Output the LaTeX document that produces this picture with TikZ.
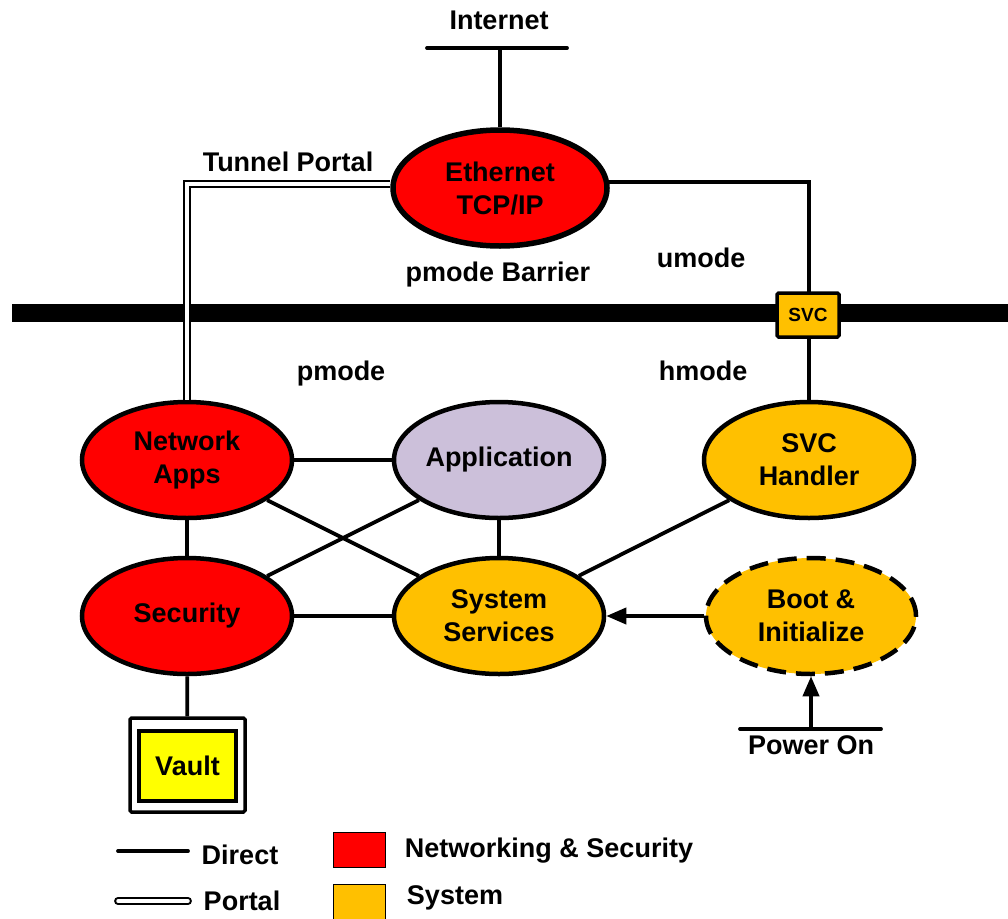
\documentclass[tikz,border=0pt]{standalone}
\usepackage{fontspec}
\setmainfont{Liberation Sans}
\usetikzlibrary{shapes.geometric,arrows.meta}
\definecolor{netred}{HTML}{FF0000}
\definecolor{sysorange}{HTML}{FFC000}
\definecolor{applav}{HTML}{CCC0DA}
\definecolor{vaultyellow}{HTML}{FFFF00}
\tikzset{
  lbl/.style={font=\fontsize{27}{33}\selectfont\bfseries, align=center, inner sep=0pt},
  blob/.style={ellipse, draw=black, line width=4.5pt, minimum width=210pt, minimum height=116pt, inner sep=0pt, lbl},
  netblob/.style={blob, fill=netred},
  sysblob/.style={blob, fill=sysorange},
  direct/.style={line width=3.8pt},
  portal/.style={line width=2.2pt, double=white, double distance=3.5pt},
  tip/.style={-{Triangle[length=20pt,width=16pt]}},
}
\begin{document}
\begin{tikzpicture}[x=1pt,y=-1pt]
\useasboundingbox (0,0) rectangle (1008,918);

% privilege barrier
\fill[black] (12,304) rectangle (1008,322);

% nodes
\node[netblob, line width=5.5pt, minimum width=214pt] (eth) at (500,188) {Ethernet\\TCP/IP};
\node[netblob] (napps) at (187,460) {Network\\Apps};
\node[blob, fill=applav] (app) at (499,460) {Application};
\node[sysblob] (svch) at (809,460) {SVC\\Handler};
\node[netblob] (sec) at (187,616) {Security};
\node[sysblob] (sys) at (499,616) {System\\Services};
\node[sysblob, dash pattern=on 19pt off 10pt] (boot) at (811,616) {Boot \&\\Initialize};

\node[draw, line width=3.5pt, fill=white, minimum width=115pt, minimum height=94pt, rounded corners=1.5pt] (vaultbox) at (187.5,765) {};
\node[draw, line width=4.5pt, fill=vaultyellow, minimum width=97pt, minimum height=70pt, lbl] (vault) at (187.5,766) {Vault};

% labels
\node[lbl] (internet) at (499,20) {Internet};
\node[lbl] (tunnel) at (288,162) {Tunnel Portal};
\node[lbl] (barrier) at (498,275) {pmode Barrier};
\node[lbl] (umode) at (701,258) {umode};
\node[lbl] (hmode) at (703,371) {hmode};
\node[lbl] (pmode) at (341,374) {pmode};
\node[lbl] (power) at (811,745) {Power On};

% external attachment bars
\coordinate (inetL) at (427,48);
\coordinate (inetR) at (567,48);
\coordinate (powL) at (740,729);
\coordinate (powR) at (881,729);
\draw[direct, line cap=round] (inetL) -- (inetR);
\draw[direct] (eth.north) -- (eth.north |- inetL);
\draw[direct, line cap=round] (powL) -- (powR);
\draw[direct, tip] (boot.south |- powL) -- (boot.south);

% connectors
\draw[portal] (eth.178) -| (napps.north);
\draw[direct] (eth.3) -| (svch.north);
\draw[direct] (napps) -- (app);
\draw[direct] (napps) -- (sec);
\draw[direct] (napps) -- (sys);
\draw[direct] (app) -- (sec);
\draw[direct] (app) -- (sys);
\draw[direct] (svch) -- (sys);
\draw[direct] (sec) -- (sys);
\draw[direct] (sec) -- (vaultbox);
\draw[direct, tip] (boot) -- (sys);

% supervisor call gate on the barrier
\node[draw, line width=3.5pt, fill=sysorange, minimum width=62pt, minimum height=44pt, rounded corners=1.5pt, font=\fontsize{19}{20}\selectfont\bfseries] (svc) at (808,315) {SVC};

% legend
\coordinate (dirL) at (118,851);
\coordinate (dirR) at (188,851);
\coordinate (porL) at (118,901);
\coordinate (porR) at (188,901);
\draw[direct, line cap=round] (dirL) -- (dirR);
\draw[portal, line cap=round] (porL) -- (porR);
\node[lbl] (ldirect) at (240,855) {Direct};
\node[lbl] (lportal) at (242,901) {Portal};
\node[draw, line width=1pt, fill=netred, minimum width=52pt, minimum height=35pt] (keynet) at (359,849.5) {};
\node[draw, line width=1pt, fill=sysorange, minimum width=52pt, minimum height=36pt] (keysys) at (359,902) {};
\node[lbl] (lnet) at (549,851) {Networking \& Security};
\node[lbl] (lsys) at (455,898) {System};
\end{tikzpicture}
\end{document}
